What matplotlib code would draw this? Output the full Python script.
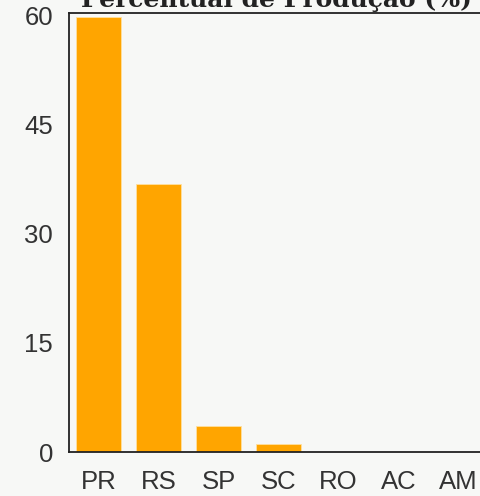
import matplotlib.pyplot as plt

estados = ["PR", "RS", "SP", "SC", "RO", "AC", "AM"]
producao = [59.8, 36.9, 3.6, 1.1, 0.03, 0.03, 0.03]
yticks = [0, 15, 30, 45, 60]

bg = "#f7f8f6"
plt.rcParams["font.family"] = ["Liberation Sans", "DejaVu Sans"]

fig = plt.figure(figsize=(4.81, 4.96), dpi=100, facecolor=bg)
ax = fig.add_axes([68.5 / 481, 44 / 496, 420 / 481, 439 / 496])
ax.set_facecolor(bg)

ax.bar(range(len(estados)), producao, width=0.75, color="#ffa500", edgecolor="#ffe0a0", linewidth=0.6)
ax.set_xlim(-0.5, len(estados) - 0.5)
ax.set_ylim(0, 60.4)
ax.set_yticks(yticks)
ax.set_xticks(range(len(estados)))
ax.set_xticklabels(estados)
ax.tick_params(axis="both", length=0, colors="#333333")
ax.tick_params(axis="y", pad=11, labelsize=18.5)
ax.tick_params(axis="x", pad=13, labelsize=18.5)
for s in ["left", "bottom", "top"]:
    ax.spines[s].set_color("#222222")
    ax.spines[s].set_linewidth(1.3)
ax.spines["right"].set_visible(False)

fig.text(276 / 481, 1 - 7 / 496, "Percentual de Produção (%)", ha="center", va="baseline",
         fontsize=18, fontweight="bold", color="#222222", family=["DejaVu Serif"])

fig.savefig("out.png", dpi=100, facecolor=bg)
